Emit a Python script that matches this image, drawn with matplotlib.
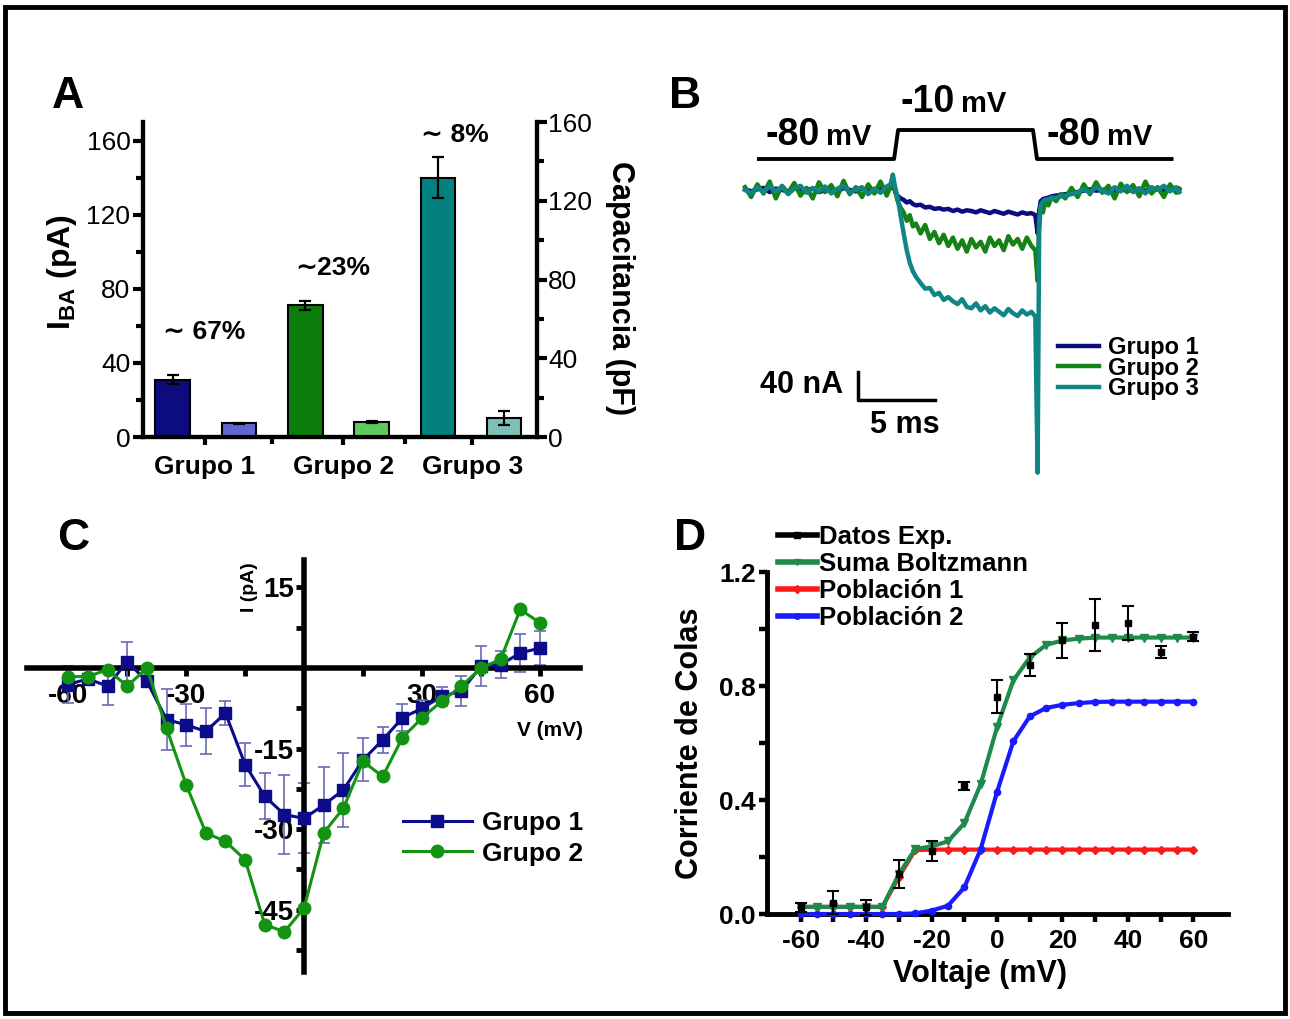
import matplotlib
matplotlib.use("Agg")
import matplotlib.pyplot as plt
from matplotlib.lines import Line2D
from matplotlib.patches import Rectangle

plt.rcParams['font.family'] = ['Liberation Sans', 'DejaVu Sans']
plt.rcParams['mathtext.fontset'] = 'custom'
plt.rcParams['mathtext.rm'] = 'Liberation Sans'
plt.rcParams['mathtext.bf'] = 'Liberation Sans:bold'
plt.rcParams['axes.linewidth'] = 3.0
plt.rcParams['axes.unicode_minus'] = False

# ---------------- data ----------------
# Panel A
groups = ['Grupo 1', 'Grupo 2', 'Grupo 3']
iba_pA = [31, 71, 140]
iba_err = [2.5, 2.5, 11]
cap_pF = [7.0, 7.5, 9.5]
cap_err = [0.3, 0.6, 3.5]
pct_labels = ['\u223c 67%', '\u223c23%', '\u223c 8%']

# Panel B (time in ms, current in nA)
t_ms = [0.0, 0.4, 0.8, 1.2, 1.6, 2.0, 2.4, 2.8, 3.2, 3.6, 4.0, 4.4, 4.8, 5.2, 5.6, 6.0,
        6.4, 6.8, 7.2, 7.6, 8.0, 8.4, 8.8, 9.2,
        9.45, 9.6, 9.75, 9.9, 10.1, 10.3, 10.5, 10.7, 10.9, 11.1, 11.4, 11.7, 12.0, 12.3,
        12.6, 12.9, 13.2, 13.5, 13.8, 14.1, 14.4, 14.7, 15.0, 15.3, 15.6, 15.9, 16.2, 16.5,
        16.8, 17.1, 17.4, 17.7, 18.0, 18.3, 18.6, 18.85,
        19.0, 19.1, 19.2, 19.35, 19.5, 19.7, 19.9, 20.2, 20.5, 20.8,
        21.2, 21.6, 22.0, 22.4, 22.8, 23.2, 23.6, 24.0, 24.4, 24.8, 25.2, 25.6, 26.0, 26.4,
        26.8, 27.2, 27.6, 28.0, 28.2]
i_grupo1 = [1, -2, 1, 3, -3, 2, 0, -2, 3, -1, 0, 2, -3, 0, 2, -2, 3, 0, -2, 2, 0, -3, 2, 0,
            3, 8, -2, -8, -12, -14, -18, -16, -20, -22, -21, -25, -24, -27, -26, -28, -27, -30,
            -28, -31, -29, -30, -32, -29, -31, -33, -30, -32, -34, -31, -33, -35, -32, -34, -33, -36,
            -62, -30, -16, -13, -12, -11, -9, -8, -7, -6,
            -5, -3, -1, 1, -1, 0, 2, -1, 1, -1, 0, 2, -1, 0, 1, -1, 0, 1, 0]
i_grupo2 = [4, -10, 8, -5, 12, -12, 6, -4, 10, -8, 3, -12, 11, -3, 7, -9, 13, -6, 4, -10, 8, -5, 12, -8,
            5, 14, -2, -15, -25, -32, -44, -36, -52, -48, -62, -50, -70, -60, -76, -64, -80, -68,
            -84, -72, -88, -70, -82, -74, -88, -68, -80, -72, -86, -66, -78, -70, -84, -68, -80, -86,
            -130, -40, -25, -32, -14, -22, -10, -16, -6, -12,
            3, -10, 8, -6, 11, -4, 6, -12, 9, -3, 7, -9, 12, -5, 4, -10, 8, -4, 2]
i_grupo3 = [0, -5, 4, -3, 6, -2, 5, -6, 2, 6, -4, 3, -2, 5, -5, 2, 6, -4, 1, 4, -6, 2, -4, 5,
            8, 22, 4, -10, -36, -62, -86, -104, -116, -124, -133, -141, -140, -150, -147, -157,
            -153, -159, -163, -156, -167, -169, -162, -172, -166, -175, -169, -174, -179, -170,
            -176, -180, -172, -178, -174, -181,
            -404, -60, -22, -16, -14, -13, -12, -11, -9, -8,
            -6, -4, 1, -4, 4, -1, -5, 4, -2, 6, -3, 2, -5, 4, 0, 6, -2, 4, -3]
prot_t = [0.9, 9.68, 9.94, 18.7, 18.96, 27.7]
prot_mV = [-80, -80, -10, -10, -80, -80]

# Panel C (V in mV, I in pA)
v_iv = [-60, -55, -50, -45, -40, -35, -30, -25, -20, -15, -10, -5, 0, 5, 10, 15, 20, 25,
        30, 35, 40, 45, 50, 55, 60]
i_g1 = [-3.1, -2.0, -3.4, 1.2, -2.5, -9.6, -10.6, -11.8, -8.4, -18.0, -23.9, -27.3, -28.0,
        -25.5, -22.7, -17.1, -13.4, -9.3, -7.5, -5.3, -4.3, 0.3, 0.6, 2.8, 3.7]
i_g1_err = [3.5, 0, 3.5, 3.7, 0, 5.6, 3.9, 4.3, 2.2, 4.0, 4.3, 7.4, 6.5, 7.0, 6.9, 4.0, 2.5,
            2.5, 1.5, 1.8, 2.8, 3.7, 2.5, 3.5, 3.2]
i_g2 = [-1.6, -1.6, -0.3, -3.4, 0.0, -11.2, -21.7, -30.7, -32.3, -35.7, -47.8, -49.1, -44.7,
        -30.7, -26.1, -17.4, -20.2, -13.0, -9.3, -6.2, -3.4, 0.0, 1.6, 10.9, 8.4]

# Panel D
v_exp = [-60, -50, -40, -30, -20, -10, 0, 10, 20, 30, 40, 50, 60]
tail_exp = [0.023, 0.04, 0.023, 0.14, 0.22, 0.449, 0.763, 0.874, 0.96, 1.014, 1.02, 0.92, 0.973]
tail_err = [0.015, 0.04, 0.025, 0.05, 0.035, 0.015, 0.058, 0.04, 0.06, 0.09, 0.06, 0.02, 0.015]
v_fit = [-60, -55, -50, -45, -40, -35, -30, -25, -20, -15, -10, -5, 0, 5, 10, 15, 20, 25,
         30, 35, 40, 45, 50, 55, 60]
suma = [0.025, 0.025, 0.025, 0.025, 0.025, 0.025, 0.14, 0.228, 0.237, 0.255, 0.318, 0.455,
        0.655, 0.82, 0.9, 0.944, 0.96, 0.966, 0.97, 0.97, 0.97, 0.97, 0.97, 0.97, 0.97]
pob1 = [0.025, 0.025, 0.025, 0.025, 0.025, 0.025, 0.13, 0.224, 0.226, 0.226, 0.226, 0.226,
        0.226, 0.226, 0.226, 0.226, 0.226, 0.226, 0.226, 0.226, 0.226, 0.226, 0.226, 0.226, 0.226]
pob2 = [0.0, 0.0, 0.0, 0.0, 0.0, 0.0, 0.0, 0.002, 0.012, 0.029, 0.093, 0.227, 0.428, 0.606,
        0.693, 0.723, 0.734, 0.74, 0.744, 0.745, 0.745, 0.745, 0.745, 0.745, 0.745]

# ---------------- figure ----------------
W, H = 1290, 1019
fig = plt.figure(figsize=(W / 100, H / 100), dpi=100)


def px_axes(l, t, r, b):
    ax = fig.add_axes([l / W, 1 - b / H, (r - l) / W, (b - t) / H])
    ax.set_facecolor('none')
    return ax


def ftext(x, y, s, **kw):
    return fig.text(x / W, 1 - y / H, s, **kw)


fig.patches.append(Rectangle((5 / W, 6 / H), 1280 / W, 1006 / H, transform=fig.transFigure,
                             fill=False, lw=3.5, ec='black'))

# ---------- Panel A ----------
axA = px_axes(143, 122, 537, 437)
axA2 = axA.twinx()
axA2.set_facecolor('none')
dark_cols = ['#0c0c7e', '#0a7d0a', '#038080']
light_cols = ['#6464d2', '#5ec95e', '#7fc0b6']
dark_x = [0, 2, 4]
light_x = [1, 3, 5]
axA.bar(dark_x, iba_pA, width=0.52, color=dark_cols, edgecolor='black', lw=1.5, zorder=2)
axA.errorbar(dark_x, iba_pA, yerr=iba_err, fmt='none', ecolor='black', elinewidth=1.6,
             capsize=4, capthick=1.6, zorder=3)
axA2.bar(light_x, cap_pF, width=0.52, color=light_cols, edgecolor='black', lw=1.5, zorder=2)
axA2.errorbar(light_x, cap_pF, yerr=cap_err, fmt='none', ecolor='black', elinewidth=1.6,
              capsize=4, capthick=1.6, zorder=3)
axA.set_xlim(-0.448, 5.495)
axA.set_ylim(0, 170)
axA2.set_ylim(0, 160)
for a in (axA, axA2):
    a.spines['top'].set_visible(False)
axA.set_xticks([0.48, 2.57, 4.52])
axA.set_xticklabels(groups, fontsize=19, fontweight='bold')
axA.set_xticks([1.5, 3.5], minor=True)
axA.set_yticks([0, 40, 80, 120, 160])
axA.set_yticks([20, 60, 100, 140], minor=True)
axA2.set_yticks([0, 40, 80, 120, 160])
axA2.set_yticks([20, 60, 100, 140], minor=True)
axA.tick_params(axis='y', labelsize=19, length=7, width=3, pad=2)
axA.tick_params(axis='x', length=6, width=3, pad=7)
axA.tick_params(which='minor', length=5, width=3)
axA2.tick_params(axis='y', labelsize=19, length=7, width=3, pad=1)
axA2.tick_params(which='minor', length=5, width=3)
ftext(62, 272, r'I$_{\mathbf{BA}}$ (pA)', rotation=90, ha='center', va='center',
      fontsize=23, fontweight='bold')
ftext(620, 288, 'Capacitancia (pF)', rotation=270, ha='center', va='center',
      fontsize=22, fontweight='bold')
for (px, py), s in zip([(204, 332), (333, 268), (455, 135)], pct_labels):
    ftext(px, py, s, ha='center', va='center', fontsize=19, fontweight='bold')

# ---------- Panel B ----------
axB = px_axes(650, 60, 1280, 490)
axB.axis('off')
axB.set_xlim(-6.17, 34.74)
axB.set_ylim(-428.6, 185.7)
axB.plot(t_ms, i_grupo1, color='#0c0c80', lw=3.2, label='Grupo 1', zorder=2)
axB.plot(t_ms, i_grupo2, color='#148214', lw=3.2, label='Grupo 2', zorder=3)
axB.plot(t_ms, i_grupo3, color='#0f8585', lw=3.2, label='Grupo 3', zorder=4)
axB.plot([7.34, 7.34, 12.34], [-260, -300, -300], color='black', lw=2.5)
axB.legend(loc='upper left', bbox_to_anchor=(1058 / W, 1 - 336 / H),
           bbox_transform=fig.transFigure, frameon=False,
           prop={'weight': 'bold', 'size': 17}, handlelength=1.75, handletextpad=0.35,
           labelspacing=-0.1, borderpad=0, borderaxespad=0)
axP = px_axes(650, 60, 1280, 490)
axP.axis('off')
axP.set_xlim(-6.17, 34.74)
axP.set_ylim(-879.5, 159.1)
axP.plot(prot_t, prot_mV, color='black', lw=2.8)
ftext(843, 385, '40 nA', ha='right', va='center', fontsize=22, fontweight='bold')
ftext(905, 425, '5 ms', ha='center', va='center', fontsize=22, fontweight='bold')
for x80, xmv, yb, big in [(765, 826, 145, '-80'), (901, 961, 112, '-10'), (1046, 1107, 145, '-80')]:
    ftext(x80, yb, big, ha='left', va='baseline', fontsize=27, fontweight='bold')
    ftext(xmv, yb, 'mV', ha='left', va='baseline', fontsize=21, fontweight='bold')

# ---------- Panel C ----------
axC = px_axes(27, 560, 580, 972)
axC.set_xlim(-70.5, 70.2)
axC.set_ylim(-56.6, 20.1)
for s in ('top', 'right'):
    axC.spines[s].set_visible(False)
axC.spines['left'].set_position(('data', 0))
axC.spines['bottom'].set_position(('data', 0))
axC.spines['left'].set_linewidth(4)
axC.spines['bottom'].set_linewidth(4)
axC.errorbar(v_iv, i_g1, yerr=i_g1_err, fmt='none', ecolor='#6a6ab4', elinewidth=1.2,
             capsize=4, capthick=1.2, zorder=2)
axC.plot(v_iv, i_g1, color='#0c0c8a', lw=2.2, marker='s', ms=8, label='Grupo 1', zorder=3)
axC.plot(v_iv, i_g2, color='#129412', lw=2.2, marker='o', ms=9, label='Grupo 2', zorder=4)
axC.set_xticks([-60, -30, 30, 60])
axC.set_xticks([-45, -15, 15, 45], minor=True)
axC.set_yticks([15, -15, -30, -45])
axC.set_yticks([7.5, -7.5, -22.5, -37.5, -52.5], minor=True)
axC.tick_params(which='both', length=6, width=3.5)
axC.tick_params(axis='x', labelsize=20, pad=5)
axC.tick_params(axis='y', labelsize=20, pad=1)
for lab in axC.get_xticklabels() + axC.get_yticklabels():
    lab.set_fontweight('bold')
ftext(249, 587, 'I (pA)', rotation=90, ha='center', va='center', fontsize=14, fontweight='bold')
ftext(550, 731, 'V (mV)', ha='center', va='center', fontsize=15, fontweight='bold')
axC.legend(loc='upper left', bbox_to_anchor=(403 / W, 1 - 811 / H),
           bbox_transform=fig.transFigure, frameon=False,
           prop={'weight': 'bold', 'size': 19}, handlelength=2.6, handletextpad=0.4,
           labelspacing=0.25, borderpad=0, borderaxespad=0)

# ---------- Panel D ----------
axD = px_axes(767, 572, 1228, 914)
axD.set_xlim(-70.3, 70.6)
axD.set_ylim(0, 1.2)
for s in ('top', 'right'):
    axD.spines[s].set_visible(False)
for s in ('left', 'bottom'):
    axD.spines[s].set_linewidth(3.5)
axD.plot(v_fit, pob1, color='#ff1a1a', lw=3, marker='D', ms=4, zorder=2, clip_on=False)
axD.plot(v_fit, pob2, color='#1a1aff', lw=3, marker='o', ms=4.5, zorder=3, clip_on=False)
axD.plot(v_fit, suma, color='#1e8a4c', lw=3, marker='v', ms=5.5, zorder=4, clip_on=False)
axD.errorbar(v_exp, tail_exp, yerr=tail_err, fmt='s', color='black', ms=5, elinewidth=1.5,
             capsize=4, capthick=1.5, zorder=5, clip_on=False)
axD.set_xticks([-60, -40, -20, 0, 20, 40, 60])
axD.set_xticks([-50, -30, -10, 10, 30, 50], minor=True)
axD.set_yticks([0.0, 0.4, 0.8, 1.2])
axD.set_yticklabels(['0.0', '0.4', '0.8', '1.2'])
axD.set_yticks([0.2, 0.6, 1.0], minor=True)
axD.tick_params(which='both', length=6, width=3.2, labelsize=19)
axD.tick_params(axis='x', pad=5)
axD.tick_params(axis='y', pad=2)
for lab in axD.get_xticklabels() + axD.get_yticklabels():
    lab.set_fontweight('bold')
axD.set_xlabel('Voltaje (mV)', fontsize=22, fontweight='bold', labelpad=6)
axD.xaxis.set_label_coords(0.462, -0.132)
axD.set_ylabel('Corriente de Colas', fontsize=22, fontweight='bold', labelpad=10)
handles = [Line2D([], [], color='black', lw=4, marker='s', ms=4),
           Line2D([], [], color='#1e8a4c', lw=4, marker='v', ms=5),
           Line2D([], [], color='#ff1a1a', lw=4, marker='D', ms=4),
           Line2D([], [], color='#1a1aff', lw=4, marker='o', ms=4)]
axD.legend(handles, ['Datos Exp.', 'Suma Boltzmann', 'Poblaci\u00f3n 1', 'Poblaci\u00f3n 2'],
           loc='upper left', bbox_to_anchor=(778 / W, 1 - 525 / H),
           bbox_transform=fig.transFigure, frameon=False,
           prop={'weight': 'bold', 'size': 18.5}, handlelength=1.5, handletextpad=0.1,
           labelspacing=0.12, borderpad=0, borderaxespad=0)

# Panel letters
for x, y, s in [(68, 97, 'A'), (685, 97, 'B'), (73, 538, 'C'), (690, 538, 'D')]:
    ftext(x, y, s, ha='center', va='center', fontsize=32, fontweight='bold')

fig.savefig('out.png', dpi=100, facecolor='white')
